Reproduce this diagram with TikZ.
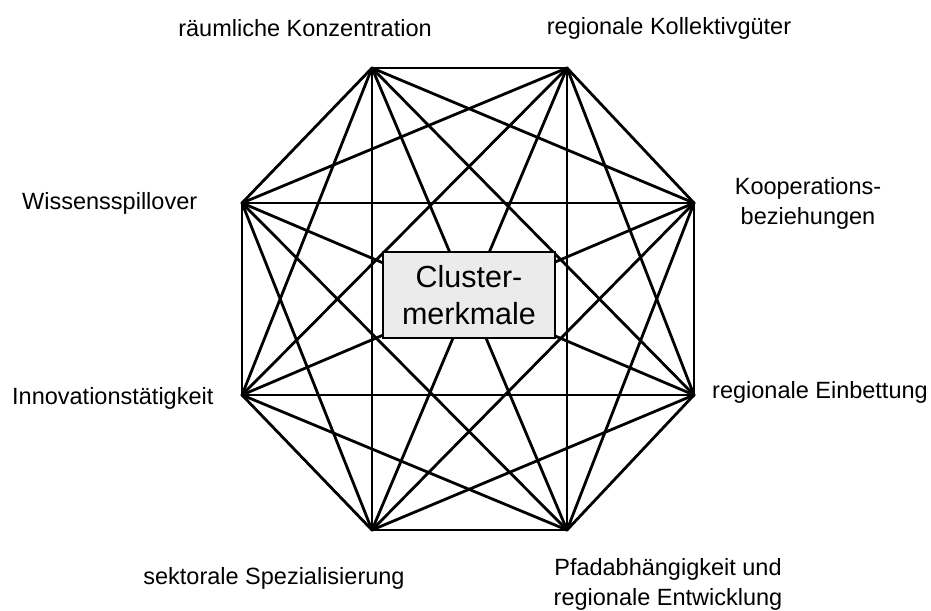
\documentclass[tikz,border=0pt]{standalone}
\usepackage{fontspec}
\setmainfont{Liberation Sans}
\begin{document}
\begin{tikzpicture}[
    x=1pt, y=-1pt,
    edge_line/.style={draw, line width=2.8pt, line cap=round, line join=round},
    lbl_text/.style={align=center, inner sep=0pt, font=\fontsize{23.5}{30}\selectfont},
    core_box/.style={rectangle, draw, line width=2.5pt, fill=black!8, align=center, minimum width=172pt, minimum height=86pt, inner sep=0pt, font=\fontsize{30.5}{37}\selectfont}
]
\useasboundingbox (0,0) rectangle (931,610);
\coordinate (v1) at (372,68);
\coordinate (v2) at (567,68);
\coordinate (v3) at (694,203);
\coordinate (v4) at (694,395);
\coordinate (v5) at (567,530);
\coordinate (v6) at (372,530);
\coordinate (v7) at (242,395);
\coordinate (v8) at (242,203);
\foreach \i in {1,...,7}{
    \pgfmathtruncatemacro{\k}{\i+1}
    \foreach \j in {\k,...,8}
        \draw[edge_line] (v\i) -- (v\j);
}
\node[core_box] (core) at (469,295) {Cluster-\\merkmale};
\node[lbl_text] (l1) at (305,28) {räumliche Konzentration};
\node[lbl_text] (l2) at (669,28) {regionale Kollektivgüter};
\node[lbl_text] (l3) at (808,203) {Kooperations-\\beziehungen};
\node[lbl_text, anchor=west] (l4) at (712,392) {regionale Einbettung};
\node[lbl_text] (l5) at (668,584) {Pfadabhängigkeit und\\regionale Entwicklung};
\node[lbl_text] (l6) at (274,578) {sektorale Spezialisierung};
\node[lbl_text, anchor=west] (l7) at (12,398) {Innovationstätigkeit};
\node[lbl_text, anchor=west] (l8) at (22,203) {Wissensspillover};
\end{tikzpicture}
\end{document}
